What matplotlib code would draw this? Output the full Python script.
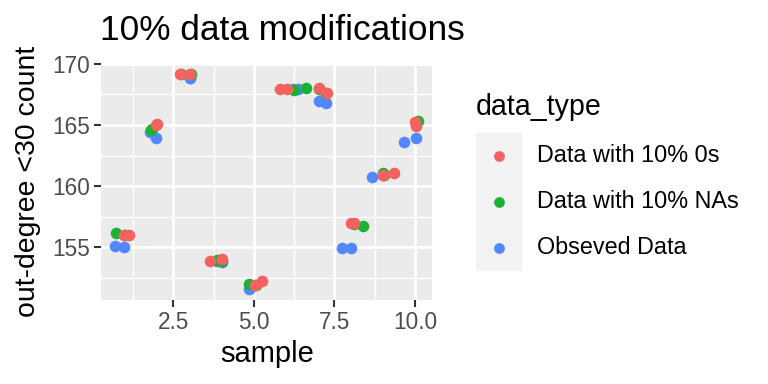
import matplotlib
matplotlib.use('Agg')
import matplotlib.pyplot as plt

plt.rcParams['font.family'] = ['Liberation Sans', 'DejaVu Sans']

# Valores (amostra, contagem)
x_zeros = [0.97, 1.13, 1.97, 2.00, 2.69, 3.00, 3.63, 4.00, 5.03, 5.26,
           5.81, 6.02, 7.01, 7.27, 8.00, 8.12, 9.02, 9.35, 10.01, 10.03]
y_zeros = [155.98, 156.00, 165.03, 165.10, 169.20, 169.20, 153.86, 154.03, 151.96, 152.30,
           167.94, 167.94, 167.99, 167.60, 156.98, 156.98, 160.93, 161.12, 165.27, 164.95]

x_nas = [0.72, 1.00, 1.84, 1.80, 3.03, 2.72, 3.84, 4.00, 4.85, 5.05,
         6.23, 6.62, 7.03, 7.25, 8.40, 8.10, 9.00, 9.05, 10.08, 10.02]
y_nas = [156.14, 156.00, 164.70, 164.55, 169.20, 169.15, 153.94, 153.90, 152.05, 151.95,
         167.86, 167.99, 167.95, 167.65, 156.74, 156.95, 161.12, 160.95, 165.35, 165.20]

x_obs = [0.69, 0.97, 1.78, 1.97, 3.00, 3.02, 4.00, 3.85, 4.85, 4.87,
         6.20, 6.38, 7.01, 7.25, 7.74, 8.02, 8.66, 9.00, 9.67, 10.03]
y_obs = [155.10, 155.00, 164.46, 163.97, 168.80, 168.85, 153.78, 153.90, 151.58, 151.70,
         167.90, 167.94, 166.98, 166.80, 154.95, 154.95, 160.79, 160.90, 163.64, 163.94]

labels = ["Data with 10% 0s", "Data with 10% NAs", "Obseved Data"]
cores = ["#F3625E", "#1BB134", "#5287FF"]

W, H = 768, 384
fig = plt.figure(figsize=(W / 100, H / 100), dpi=100)

def px(x0, y0, x1, y1):
    return [x0 / W, 1 - y1 / H, (x1 - x0) / W, (y1 - y0) / H]

ax = fig.add_axes(px(101, 63.5, 432, 300))
ax.set_facecolor("#EBEBEB")
for s in ax.spines.values():
    s.set_visible(False)

tam = 70
ax.scatter(x_obs, y_obs, s=tam, color=cores[2], lw=0, zorder=3)
ax.scatter(x_nas, y_nas, s=tam, color=cores[1], lw=0, zorder=3)
ax.scatter(x_zeros, y_zeros, s=tam, color=cores[0], lw=0, zorder=3)

ax.set_xlim(0.25, 10.53)
ax.set_ylim(150.71, 170.02)
ax.set_xticks([2.5, 5.0, 7.5, 10.0])
ax.set_xticklabels(["2.5", "5.0", "7.5", "10.0"])
ax.set_yticks([155, 160, 165, 170])
ax.set_xticks([1.25, 3.75, 6.25, 8.75], minor=True)
ax.set_yticks([152.5, 157.5, 162.5, 167.5], minor=True)
ax.grid(True, which='major', color='white', lw=2.0, zorder=1)
ax.grid(True, which='minor', color='white', lw=1.0, zorder=1)
ax.tick_params(which='major', length=5, width=1.5, color='#333333',
               labelsize=16.3, labelcolor='#4D4D4D', pad=3)
ax.tick_params(which='minor', length=0)

fig.text(100 / W, 1 - 39.5 / H, "10% data modifications", fontsize=25.4,
         ha='left', va='baseline')
fig.text(267 / W, 1 - 354 / H, "sample", fontsize=21, ha='center', va='center')
fig.text(28 / W, 1 - 181.75 / H, "out-degree <30 count", fontsize=20.4,
         ha='center', va='center', rotation=90)

# Legenda manual no estilo ggplot
leg = fig.add_axes(px(476, 133, 522, 271))
leg.set_facecolor("#F2F2F2")
for s in leg.spines.values():
    s.set_visible(False)
leg.set_xticks([])
leg.set_yticks([])
leg.set_xlim(0, 1)
leg.set_ylim(3, 0)
for i, (lab, c) in enumerate(zip(labels, cores)):
    leg.scatter([0.5], [i + 0.5], s=60, color=c, lw=0)
    fig.text(537 / W, 1 - (133 + 46 * (i + 0.5)) / H, lab, fontsize=16.8,
             ha='left', va='center')
fig.text(476 / W, 1 - 107 / H, "data_type", fontsize=20.6, ha='left', va='center')

fig.savefig("out.png", dpi=100)
